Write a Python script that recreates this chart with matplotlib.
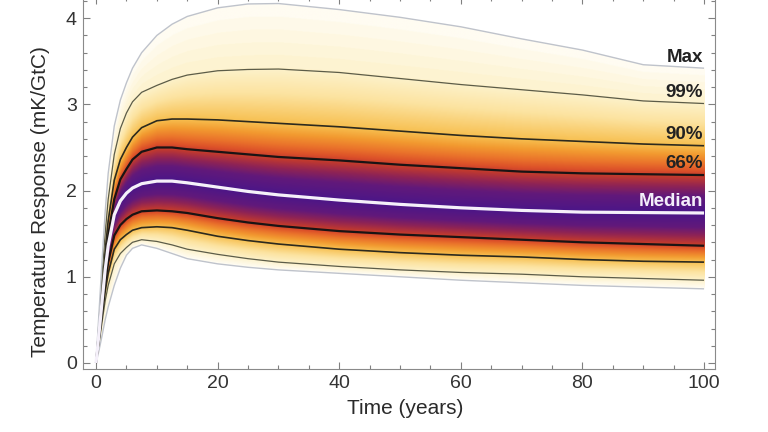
import numpy as np
import matplotlib
matplotlib.use('Agg')
import matplotlib.pyplot as plt
from matplotlib.colors import LinearSegmentedColormap
from matplotlib.ticker import MultipleLocator

plt.rcParams['font.family'] = ['Liberation Sans', 'DejaVu Sans']

# ---------------- data ----------------
time = [0, 0.5, 1, 1.5, 2, 3, 4, 5, 6, 7.5, 10, 12.5, 15, 20, 25, 30, 40, 50, 60, 70, 80, 90, 100]

p_min = [0, 0.15, 0.32, 0.50, 0.65, 0.90, 1.10, 1.25, 1.33, 1.37, 1.33, 1.27, 1.21, 1.15, 1.11, 1.08, 1.04, 1.00, 0.96, 0.93, 0.90, 0.88, 0.86]
p01 = [0, 0.23, 0.48, 0.72, 0.90, 1.15, 1.27, 1.34, 1.40, 1.43, 1.41, 1.37, 1.32, 1.26, 1.21, 1.17, 1.12, 1.08, 1.05, 1.03, 1.00, 0.98, 0.96]
p10 = [0, 0.27, 0.55, 0.83, 1.04, 1.32, 1.43, 1.49, 1.54, 1.57, 1.58, 1.57, 1.54, 1.47, 1.42, 1.38, 1.32, 1.28, 1.25, 1.23, 1.20, 1.18, 1.17]
p34 = [0, 0.30, 0.62, 0.93, 1.17, 1.48, 1.60, 1.67, 1.72, 1.76, 1.77, 1.76, 1.74, 1.68, 1.63, 1.59, 1.53, 1.49, 1.46, 1.43, 1.40, 1.38, 1.36]
p50 = [0, 0.35, 0.72, 1.08, 1.36, 1.72, 1.88, 1.97, 2.03, 2.08, 2.11, 2.11, 2.09, 2.04, 1.99, 1.95, 1.89, 1.84, 1.80, 1.77, 1.75, 1.745, 1.74]
p66 = [0, 0.38, 0.79, 1.18, 1.48, 1.90, 2.13, 2.25, 2.36, 2.45, 2.50, 2.50, 2.48, 2.45, 2.42, 2.39, 2.35, 2.30, 2.26, 2.22, 2.20, 2.19, 2.18]
p90 = [0, 0.43, 0.88, 1.30, 1.65, 2.12, 2.36, 2.50, 2.62, 2.73, 2.81, 2.83, 2.83, 2.82, 2.80, 2.78, 2.74, 2.69, 2.64, 2.60, 2.57, 2.54, 2.52]
p99 = [0, 0.50, 1.02, 1.50, 1.90, 2.42, 2.72, 2.90, 3.03, 3.14, 3.22, 3.29, 3.34, 3.39, 3.405, 3.41, 3.37, 3.30, 3.23, 3.17, 3.11, 3.04, 3.01]
p_max = [0, 0.60, 1.20, 1.75, 2.20, 2.75, 3.05, 3.25, 3.42, 3.60, 3.80, 3.93, 4.02, 4.12, 4.165, 4.17, 4.10, 4.01, 3.90, 3.76, 3.63, 3.46, 3.42]

levels = [0, 1, 10, 34, 50, 66, 90, 99, 100]
curve_names = ['Min', '1%', '10%', '34%', 'Median', '66%', '90%', '99%', 'Max']
labelled = ['Max', '99%', '90%', '66%', 'Median']

curves = [p_min, p01, p10, p34, p50, p66, p90, p99, p_max]

# ---------------- figure ----------------
fig = plt.figure(figsize=(7.68, 4.32), dpi=100)
ax = fig.add_axes([0.1081, 0.1458, 0.8229, 0.861])
ylo, yhi = -0.07, 4.245
ax.set_xlim(-2.14, 101.8)
ax.set_ylim(ylo, yhi)

# density-like background derived from the percentile curves
cmap = LinearSegmentedColormap.from_list('dens', [
    (0.00, '#fffcf2'), (0.02, '#fdf1c8'), (0.10, '#fce3a0'), (0.20, '#f7bf4f'),
    (0.35, '#f29a30'), (0.50, '#ea732b'), (0.62, '#dc5029'), (0.70, '#c0392f'),
    (0.78, '#8e2355'), (0.86, '#62197a'), (1.00, '#4a1689')])
cmap.set_bad((1, 1, 1, 0))

t_grid = np.linspace(0, 100, 801)
y_grid = np.linspace(ylo, yhi, 700)
C = np.array([np.interp(t_grid, time, c) for c in curves])
lev = np.array(levels) / 100.0
img = np.full((len(y_grid), len(t_grid)), np.nan)
for j in range(len(t_grid)):
    v = C[:, j] + lev * 1e-6
    p = np.interp(y_grid, v, lev)
    inside = (y_grid >= v[0]) & (y_grid <= v[-1])
    cen = 1 - np.abs(2 * p - 1)
    img[inside, j] = cen[inside]
img = np.ma.masked_invalid(img)
ax.imshow(img, extent=[0, 100, ylo, yhi], origin='lower', aspect='auto',
          cmap=cmap, vmin=0, vmax=1, interpolation='bilinear', zorder=1)

styles = {
    'Min': dict(color='#bfc3cb', lw=1.0), 'Max': dict(color='#bfc3cb', lw=1.0),
    '1%': dict(color='#5c5c48', lw=0.9), '99%': dict(color='#5c5c48', lw=0.9),
    '10%': dict(color='#2d2a1e', lw=1.2), '90%': dict(color='#2d2a1e', lw=1.2),
    '34%': dict(color='#1a1414', lw=1.6), '66%': dict(color='#1a1414', lw=1.6),
    'Median': dict(color='#f5f0fa', lw=2.3),
}
for name, c in zip(curve_names, curves):
    ax.plot(time, c, zorder=4 if name == 'Median' else 3, solid_capstyle='butt', **styles[name])
    if name in labelled:
        ax.annotate(name, xy=(time[-1], c[-1]), xytext=(-1, 8), textcoords='offset points',
                    ha='right', va='center', fontsize=13.5, fontweight='bold',
                    color='#f3eefa' if name == 'Median' else '#222222', zorder=5)

# axes styling
ax.xaxis.set_major_locator(MultipleLocator(20))
ax.xaxis.set_minor_locator(MultipleLocator(5))
ax.yaxis.set_major_locator(MultipleLocator(1))
ax.yaxis.set_minor_locator(MultipleLocator(0.2))
ax.tick_params(which='both', direction='in', top=True, right=True, color='#808080', width=0.8)
ax.tick_params(which='major', length=5, labelsize=14, labelcolor='#333333', pad=4.5)
ax.tick_params(which='minor', length=3)
for s in ax.spines.values():
    s.set_color('#8a8a8a')
    s.set_linewidth(0.8)

ax.set_xlabel('Time (years)', fontsize=15, color='#2a2a2a')
ax.set_ylabel('Temperature Response (mK/GtC)', fontsize=15, color='#2a2a2a')
ax.xaxis.set_label_coords(0.509, -0.081)
ax.yaxis.set_label_coords(-0.052, 0.449)

fig.savefig('out.png', dpi=100)
